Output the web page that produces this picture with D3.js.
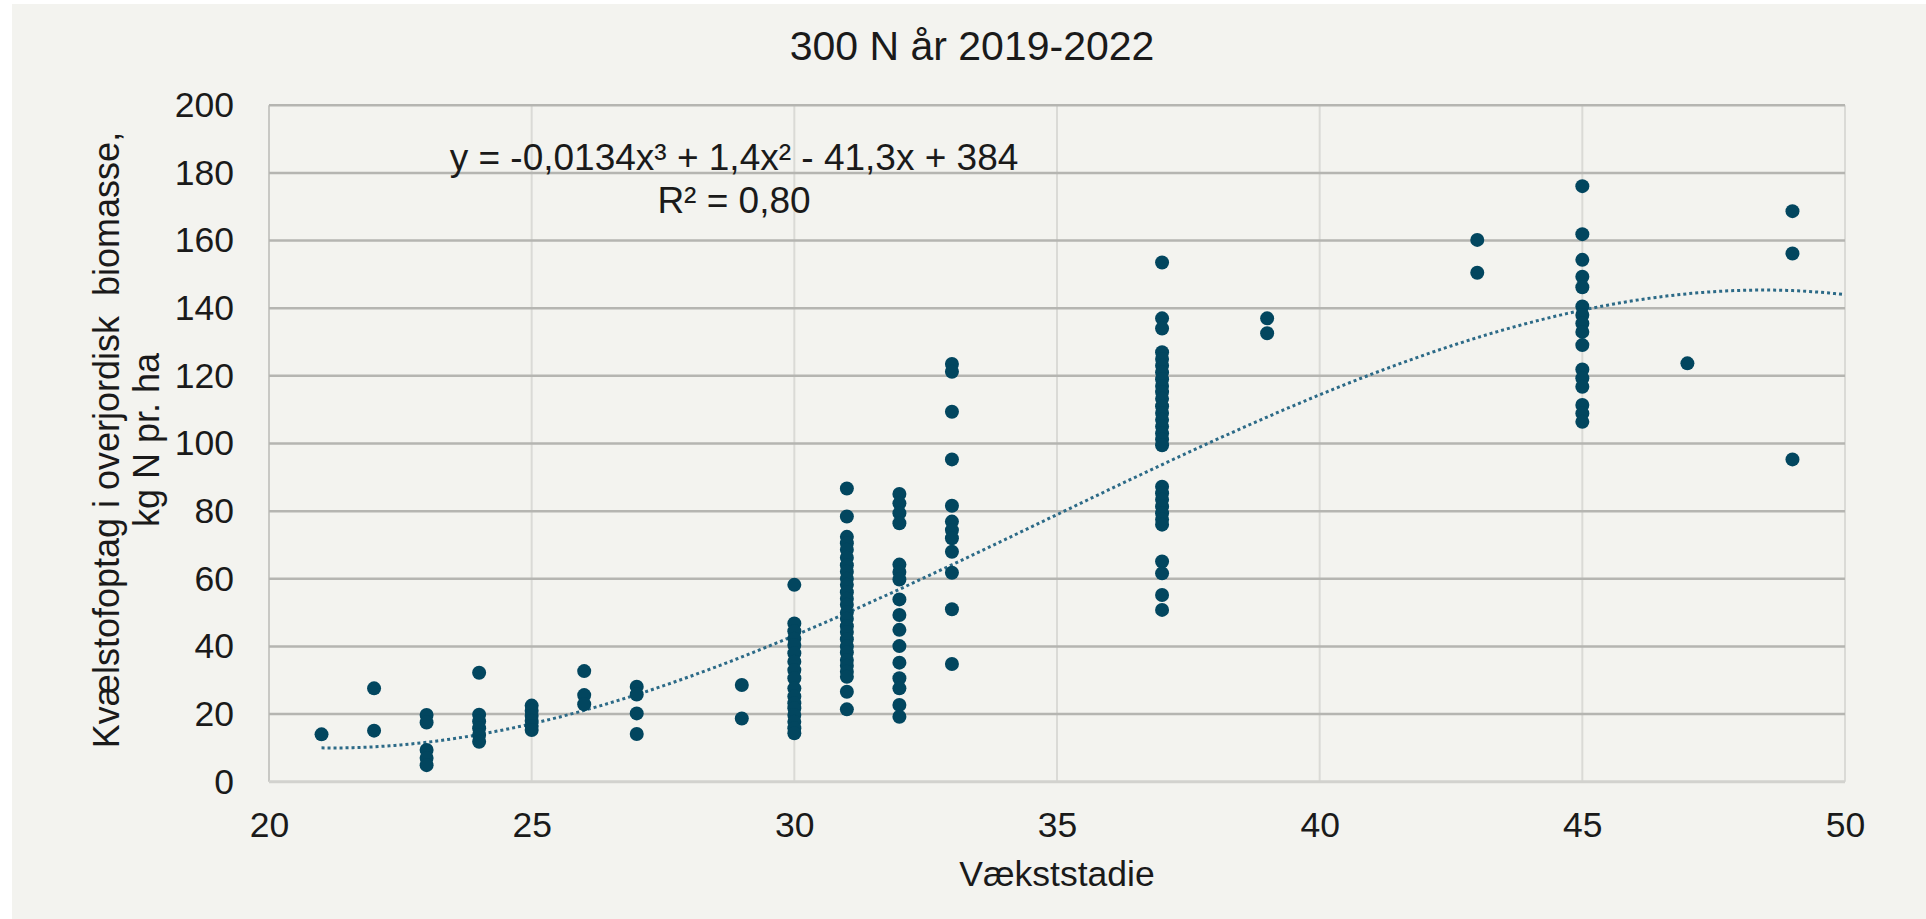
<!DOCTYPE html>
<html>
<head>
<meta charset="utf-8">
<script src="https://cdn.jsdelivr.net/npm/d3@7"></script>
<style>
  html, body { margin: 0; padding: 0; background: #ffffff; }
  svg text { font-family: "Liberation Sans", Arial, sans-serif; fill: #1a1a1a; }
</style>
</head>
<body>
<svg id="chart" width="1926" height="919"></svg>
<script>
// ---- data ----
const stages = [21, 22, 23, 24, 25, 26, 27, 29, 30, 31, 32, 33, 37, 39, 43, 45, 47, 49];
const uptake = [
  [14.0],
  [27.6, 15.1],
  [19.7, 17.5, 9.4, 7.0, 4.9],
  [32.2, 19.8, 17.8, 15.8, 13.8, 11.8],
  [22.5, 21.0, 19.5, 18.0, 16.5, 15.3],
  [32.7, 25.6, 22.9],
  [28.1, 25.8, 20.2, 14.1],
  [28.6, 18.7],
  [58.2, 46.8, 44.5, 42.3, 40.4, 38.0, 35.5, 33.0, 30.6, 27.6, 25.2, 23.2, 21.7, 19.7, 17.7, 15.8, 14.3],
  [86.7, 78.4, 72.4, 70.5, 68.6, 66.2, 64.0, 62.1, 60.0, 58.2, 56.0, 54.1, 52.3, 50.0, 48.2, 46.0, 44.3, 42.1, 40.0, 38.2, 36.0, 34.3, 32.5, 31.0, 26.6, 21.4],
  [85.1, 82.3, 79.4, 76.4, 64.2, 62.0, 59.8, 53.9, 49.3, 44.9, 40.1, 35.2, 30.6, 27.6, 22.7, 19.2],
  [123.5, 121.2, 109.4, 95.3, 81.6, 76.9, 74.4, 72.0, 68.0, 61.8, 51.0, 34.8],
  [153.5, 137.0, 134.0, 127.0, 125.0, 123.0, 121.0, 119.0, 117.0, 115.2, 113.2, 111.0, 109.0, 107.0, 105.0, 103.0, 101.2, 99.5, 87.2, 85.3, 83.4, 81.4, 79.4, 77.5, 76.0, 65.1, 61.6, 55.2, 50.8],
  [137.0, 132.6],
  [160.2, 150.5],
  [176.1, 161.9, 154.3, 149.3, 146.2, 140.5, 138.0, 135.5, 133.0, 129.1, 121.9, 119.3, 116.8, 111.4, 108.9, 106.4],
  [123.7],
  [168.7, 156.2, 95.3]
];
// trendline coefficients shown on the chart: y = a x^3 + b x^2 + c x + d
const trendCoef = [-0.0134, 1.4, -41.3, 384];
const trendRange = [21, 50];
const xTicks = [20, 25, 30, 35, 40, 45, 50];
const yTicks = [0, 20, 40, 60, 80, 100, 120, 140, 160, 180, 200];
const titleText = "300 N år 2019-2022";
const xLabel = "Vækststadie";
const yLabelLines = ["Kvælstofoptag i overjordisk  biomasse,", "kg N pr. ha"];
const eqLine1 = "y = -0,0134x³ + 1,4x² - 41,3x + 384";
const eqLine2 = "R² = 0,80";

// ---- drawing ----
const svg = d3.select("#chart");
const x = d3.scaleLinear().domain([20, 50]).range([269, 1845]);
const y = d3.scaleLinear().domain([0, 200]).range([781.7, 105.3]);

svg.append("rect").attr("x", 12).attr("y", 4).attr("width", 1914).attr("height", 915).attr("fill", "#f3f3ef");

// vertical gridlines
svg.append("g").selectAll("line").data(xTicks).join("line")
  .attr("x1", d => x(d)).attr("x2", d => x(d))
  .attr("y1", y(200)).attr("y2", y(0))
  .attr("stroke", d => d === 20 ? "#c8c8c4" : "#dadad6").attr("stroke-width", 2);

// horizontal gridlines
svg.append("g").selectAll("line").data(yTicks).join("line")
  .attr("x1", x(20)).attr("x2", x(50))
  .attr("y1", d => y(d)).attr("y2", d => y(d))
  .attr("stroke", d => d === 0 ? "#d2d2ce" : "#b5b5b1").attr("stroke-width", d => d === 0 ? 3 : 2.5);

// axes labels via d3 axes (ticks text only)
const yAxis = svg.append("g").attr("transform", `translate(${x(20)},0)`)
  .call(d3.axisLeft(y).tickValues(yTicks).tickSize(0).tickPadding(35));
yAxis.select(".domain").remove();
yAxis.selectAll("text").attr("font-size", 35.5).attr("font-family", "Liberation Sans, Arial, sans-serif").attr("fill", "#1a1a1a");

const xAxis = svg.append("g").attr("transform", `translate(0,${y(0)})`)
  .call(d3.axisBottom(x).tickValues(xTicks).tickSize(0).tickPadding(30));
xAxis.select(".domain").remove();
xAxis.selectAll("text").attr("font-size", 35.5).attr("font-family", "Liberation Sans, Arial, sans-serif").attr("fill", "#1a1a1a");

// trendline
const trendPts = d3.range(trendRange[0], trendRange[1] + 0.001, 0.1).map(v => {
  const [a, b, c, d] = trendCoef;
  return [v, a * v * v * v + b * v * v + c * v + d];
});
svg.append("path").datum(trendPts)
  .attr("d", d3.line().x(d => x(d[0])).y(d => y(d[1])))
  .attr("fill", "none").attr("stroke", "#2c6a87").attr("stroke-width", 3)
  .attr("stroke-dasharray", "3,3");

// points
const points = [];
stages.forEach((s, i) => uptake[i].forEach(v => points.push([s, v])));
svg.append("g").selectAll("circle").data(points).join("circle")
  .attr("cx", d => x(d[0])).attr("cy", d => y(d[1])).attr("r", 7)
  .attr("fill", "#02465f");

// title
svg.append("text").attr("x", 972).attr("y", 60).attr("text-anchor", "middle")
  .attr("font-size", 41).text(titleText);

// equation
svg.append("text").attr("x", 734).attr("y", 170).attr("text-anchor", "middle")
  .attr("font-size", 37).text(eqLine1);
svg.append("text").attr("x", 734).attr("y", 213).attr("text-anchor", "middle")
  .attr("font-size", 37).text(eqLine2);

// x label
svg.append("text").attr("x", 1057).attr("y", 886).attr("text-anchor", "middle")
  .attr("font-size", 35.5).text(xLabel);

// y label
const yl = svg.append("text").attr("transform", "translate(0,440) rotate(-90)")
  .attr("text-anchor", "middle").attr("font-size", 36).attr("xml:space", "preserve");
yLabelLines.forEach((t, i) => {
  yl.append("tspan").attr("x", 0).attr("y", 119 + i * 40).text(t);
});
</script>
</body>
</html>
